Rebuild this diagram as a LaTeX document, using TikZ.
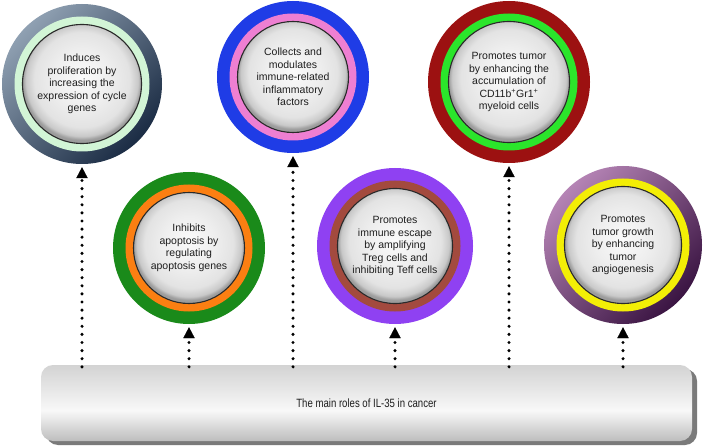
\documentclass[tikz,border=0pt]{standalone}
\usepackage{fontspec}
\setmainfont{Liberation Sans}
\newfontfamily\narrowfont[FakeStretch=0.8]{Liberation Sans}
\usetikzlibrary{arrows.meta,shadows}

\definecolor{cOneLight}{HTML}{8FA0B2}
\definecolor{cOneDark}{HTML}{1B2C44}
\definecolor{cOneRing}{HTML}{D2F5D6}
\definecolor{cTwoBlue}{HTML}{1F3CE6}
\definecolor{cTwoRing}{HTML}{EE7FD2}
\definecolor{cThreeRed}{HTML}{9C1111}
\definecolor{cThreeRing}{HTML}{2BE52B}
\definecolor{cFourGreen}{HTML}{1A8A1A}
\definecolor{cFourRing}{HTML}{FB7F12}
\definecolor{cFivePurple}{HTML}{8F41F2}
\definecolor{cFiveRing}{HTML}{A34A3E}
\definecolor{cSixLight}{HTML}{B584B5}
\definecolor{cSixDark}{HTML}{3A1442}
\definecolor{cSixRing}{HTML}{F3EE06}
\definecolor{glassCenter}{HTML}{FAFAFA}
\definecolor{glassMid}{HTML}{EEEEEE}
\definecolor{glassMidTwo}{HTML}{E3E3E3}
\definecolor{glassEdge}{HTML}{C9C9C9}
\definecolor{glassRim}{HTML}{9C9C9C}
\definecolor{discLine}{HTML}{2A2A2A}
\definecolor{barLow}{HTML}{BDBDBD}
\definecolor{barWhite}{HTML}{F8F8F8}
\definecolor{barTop}{HTML}{D3D3D3}
\definecolor{barShadow}{HTML}{7A7A7A}
\definecolor{txtDark}{HTML}{1E1E1E}

\pgfdeclareradialshading{glassdisc}{\pgfpoint{0bp}{3bp}}{%
  color(0bp)=(glassCenter);
  color(12bp)=(glassMid);
  color(20bp)=(glassMidTwo);
  color(23.5bp)=(glassEdge);
  color(25bp)=(glassRim);
  color(50bp)=(glassRim)}

\pgfdeclareverticalshading{barshade}{100bp}{%
  color(0bp)=(barLow);
  color(25bp)=(barLow);
  color(45bp)=(barWhite);
  color(75bp)=(barTop);
  color(100bp)=(barTop)}

\tikzset{
  roletext/.style={circle, inner sep=0pt, align=center, text=txtDark,
    font=\fontsize{10.5}{12.5}\selectfont},
  dotarrow/.style={line width=3.4pt, line cap=round, dash pattern=on 0pt off 8.1pt,
    -{Triangle[length=11pt,width=11.5pt,line width=0.4pt]}, shorten >=3pt},
  barbox/.style={rectangle, rounded corners=12pt, minimum width=651pt, minimum height=76pt,
    inner sep=0pt, shade, shading=barshade, text=txtDark,
    drop shadow={opacity=1, fill=barShadow, shadow xshift=5pt, shadow yshift=-4pt}},
}

\newcommand\RoleCircle[7]{%
  \pgfmathsetmacro\rcA{#4-12.5}%
  \pgfmathsetmacro\rcB{#4-20.5}%
  \path[#5] (#2,#3) circle[radius=#4pt];
  \fill[#6] (#2,#3) circle[radius=\rcA pt];
  \shade[shading=glassdisc, draw=discLine, line width=1.1pt] (#2,#3) circle[radius=\rcB pt];
  \node[roletext, minimum size=2*#4pt] (#1) at (#2,#3) {#7};
}

\begin{document}
\begin{tikzpicture}[x=1pt,y=-1pt]
\useasboundingbox[fill=white] (0,0) rectangle (709,446);

\RoleCircle{c1}{82}{84}{80}{shade, top color=cOneLight, bottom color=cOneDark, shading angle=45}{cOneRing}%
  {Induces\\proliferation by\\increasing the\\expression of cycle\\genes}
\RoleCircle{c2}{293}{77}{76}{fill=cTwoBlue}{cTwoRing}%
  {Collects and\\modulates\\immune-related\\inflammatory\\factors}
\RoleCircle{c3}{509}{82}{81}{fill=cThreeRed}{cThreeRing}%
  {Promotes tumor\\by enhancing the\\accumulation of\\CD11b\textsuperscript{+}Gr1\textsuperscript{+}\\myeloid cells}
\RoleCircle{c4}{189}{248}{76}{fill=cFourGreen}{cFourRing}%
  {Inhibits\\apoptosis by\\regulating\\apoptosis genes}
\RoleCircle{c5}{395}{246}{78}{fill=cFivePurple}{cFiveRing}%
  {Promotes\\immune escape\\by amplifying\\Treg cells and\\inhibiting Teff cells}
\RoleCircle{c6}{623}{245}{79}{shade, top color=cSixLight, bottom color=cSixDark, shading angle=45}{cSixRing}%
  {Promotes\\tumor growth\\by enhancing\\tumor\\angiogenesis}

\node[barbox] (bar) at (366.5,403)
  {\narrowfont\fontsize{12}{14}\selectfont The main roles of IL-35 in cancer};

\foreach \c in {c1,c2,c3,c4,c5,c6}
  \draw[dotarrow] ([yshift=-2pt]\c.south |- bar.north) -- (\c.south);
\end{tikzpicture}
\end{document}
